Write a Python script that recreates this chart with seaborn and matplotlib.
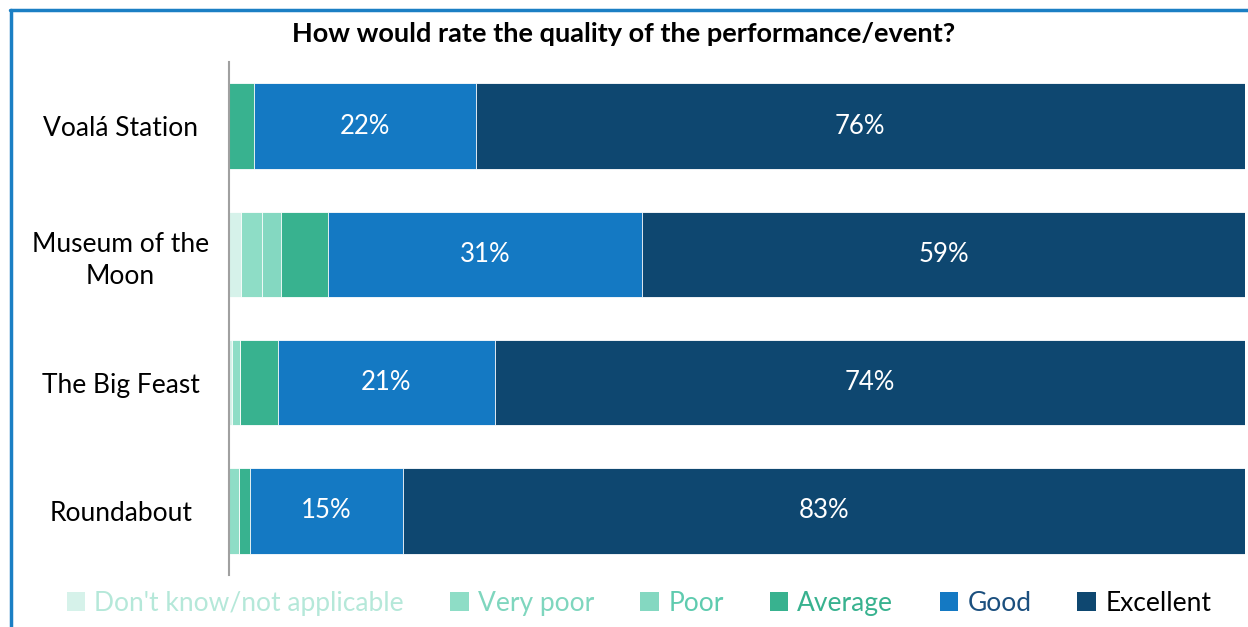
import seaborn as sns
import numpy as np
import matplotlib
matplotlib.use("Agg")
import matplotlib.pyplot as plt
import pandas as pd
from matplotlib.lines import Line2D
from matplotlib.patches import Patch

categories = ["Voalá Station", "Museum of the\nMoon", "The Big Feast", "Roundabout"]
series = ["Don't know/not applicable", "Very poor", "Poor", "Average", "Good", "Excellent"]
dont_know = [0, 1.2, 0.3, 0]
very_poor = [0, 2.0, 0.8, 1.0]
poor = [0, 1.9, 0, 0]
average = [2.5, 4.6, 3.7, 1.1]
good = [21.8, 31.0, 21.4, 15.0]
excellent = [75.7, 59.3, 73.8, 82.9]

colors = ["#D6F2EA", "#8EDDC6", "#84D8C1", "#38B28F", "#1479C3", "#0E4770"]
text_colors = ["#B5E8D9", "#7FD6BE", "#5FCBAF", "#38B28F", "#1B4F7E", "#000000"]

sns.set_theme(style="white")
plt.rcParams['font.family'] = ['Lato', 'DejaVu Sans']

df = pd.DataFrame({"cat": categories})
vals = [dont_know, very_poor, poor, average, good, excellent]
for name, v in zip(series, vals):
    df[name] = v
cum = df[series].cumsum(axis=1)

fig = plt.figure(figsize=(12.48, 6.27), dpi=100)
ax = fig.add_axes([0.1835, 0.083, 0.814, 0.818])

# draw cumulative totals back to front so each segment shows
for i in range(len(series) - 1, -1, -1):
    sns.barplot(x=cum[series[i]], y=df["cat"], orient="h", color=colors[i],
                width=0.667, ax=ax, edgecolor="#ffffff", linewidth=0.6,
                saturation=1)

# labels on Good / Excellent
for i in range(len(categories)):
    for s in ["Good", "Excellent"]:
        left = cum[s][i] - df[s][i]
        ax.text(left + df[s][i] / 2, i, f"{df[s][i]:.0f}%", ha="center",
                va="center", color="white", fontsize=18.5)

ax.set_xlim(0, 100)
ax.set_ylim(3.5, -0.5)
ax.set_xlabel("")
ax.set_ylabel("")
ax.set_xticks([])
ax.tick_params(axis="y", length=0, pad=78, labelsize=19)
for lab in ax.get_yticklabels():
    lab.set_ha("center")
    lab.set_multialignment("center")
    lab.set_linespacing(1.35)
    lab.set_color("#000000")
for sp in ["top", "right", "bottom"]:
    ax.spines[sp].set_visible(False)
ax.spines["left"].set_color("#A0A0A0")
ax.spines["left"].set_linewidth(1.5)

fig.text(0.5, 0.946, "How would rate the quality of the performance/event?",
         ha="center", va="center", fontsize=19.5, fontweight="bold", color="#000000")

handles = [Patch(facecolor=c, edgecolor="none") for c in colors]
leg = fig.legend(handles, series, loc="center", bbox_to_anchor=(0.512, 0.038), ncol=6,
                 frameon=False, fontsize=19, handlelength=0.7, handleheight=0.7,
                 handletextpad=0.35, columnspacing=1.75)
for t, c in zip(leg.get_texts(), text_colors):
    t.set_color(c)

# blue frame lines on top and left
fig.add_artist(Line2D([0.0088, 0.0088], [0, 0.984], color="#1B7FC4", lw=2.5,
                      transform=fig.transFigure))
fig.add_artist(Line2D([0.0078, 1.0], [0.984, 0.984], color="#1B7FC4", lw=2.5,
                      transform=fig.transFigure))

fig.savefig("out.png", dpi=100)
plt.close()
